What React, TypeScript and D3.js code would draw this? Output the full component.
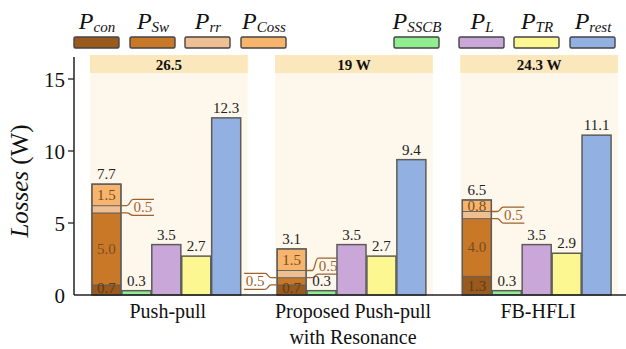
import React from "react";
import * as d3 from "d3";

// ---- data ----
const categoryLines: string[][] = [["Push-pull"], ["Proposed Push-pull", "with Resonance"], ["FB-HFLI"]];
const groupTotals = ["26.5", "19 W", "24.3 W"];

// stacked switch-loss components
const pCon = [0.7, 0.7, 1.3];
const pSw = [5.0, 0.5, 4.0];
const pRr = [0.5, 0.5, 0.5];
const pCoss = [1.5, 1.5, 0.8];
const stackTotals = ["7.7", "3.1", "6.5"];

// single bars
const pSSCB = [0.3, 0.3, 0.3];
const pL = [3.5, 3.5, 3.5];
const pTR = [2.7, 2.7, 2.9];
const pRest = [12.3, 9.4, 11.1];

const yTicks = [0, 5, 10, 15];

// ---- styling ----
const W = 626;
const H = 349;
const FONT = "Liberation Serif, DejaVu Serif, Liberation Sans, DejaVu Sans, sans-serif";

const colors: Record<string, string> = {
  con: "#9b5a1d",
  sw: "#c97828",
  rr: "#eebf93",
  coss: "#f6b46d",
  sscb: "#90ee90",
  l: "#c9a7d8",
  tr: "#fdf792",
  rest: "#92b1e2",
};

const legendItems = [
  { key: "con", sub: "con", x: 74 },
  { key: "sw", sub: "Sw", x: 130 },
  { key: "rr", sub: "rr", x: 185 },
  { key: "coss", sub: "Coss", x: 241 },
  { key: "sscb", sub: "SSCB", x: 394 },
  { key: "l", sub: "L", x: 459 },
  { key: "tr", sub: "TR", x: 514 },
  { key: "rest", sub: "rest", x: 570 },
];

// stack segments that are labelled with a side callout instead of inline
const callouts = [
  { group: 0, key: "rr", side: "right", dy: -2 },
  { group: 1, key: "rr", side: "right", dy: -8 },
  { group: 1, key: "sw", side: "left", dy: 0 },
  { group: 2, key: "rr", side: "right", dy: 0 },
];

const barKeys = ["stack", "sscb", "l", "tr", "rest"];
const singleSeries: Record<string, number[]> = { sscb: pSSCB, l: pL, tr: pTR, rest: pRest };

export default function App() {
  const x0 = d3
    .scaleBand<number>()
    .domain(d3.range(categoryLines.length))
    .range([74, 634])
    .paddingInner(0.148)
    .paddingOuter(0.086);
  const bw = x0.bandwidth();
  const x1 = d3.scaleBand<string>().domain(barKeys).range([2, bw - 7]).paddingInner(0.03);
  const y = d3.scaleLinear().domain([0, 16.5]).range([295, 57.4]);

  const stackKeys = ["con", "sw", "rr", "coss"];
  const stackData = categoryLines.map((_, i) => ({ con: pCon[i], sw: pSw[i], rr: pRr[i], coss: pCoss[i] }));
  const stacked = d3.stack<any>().keys(stackKeys)(stackData);

  const barStroke = "#5c5c5c";
  const labelBrown = "#7a4c22";
  const calloutBrown = "#a0612c";
  const valueSize = 15;

  return (
    <svg
      width={W}
      height={H}
      style={{ position: "absolute", left: 0, top: 0, background: "#fff", fontFamily: FONT }}
    >
      {/* legend */}
      {legendItems.map((it) => (
        <g key={it.key}>
          <text x={it.x + 23} y={29} textAnchor="middle" fontStyle="italic" fill="#111">
            <tspan fontSize={24}>P</tspan>
            <tspan fontSize={15} dy={3}>
              {it.sub}
            </tspan>
          </text>
          <rect
            x={it.x}
            y={37}
            width={45}
            height={11}
            rx={1.5}
            fill={colors[it.key]}
            stroke="#444"
            strokeWidth={1.4}
          />
        </g>
      ))}

      {/* group backgrounds and totals */}
      {categoryLines.map((_, i) => {
        const gx = x0(i)!;
        return (
          <g key={"bg" + i}>
            <rect x={gx} y={55} width={bw} height={y(0) - 55} fill="#fef8ec" />
            <rect x={gx} y={55} width={bw} height={18} fill="#fbe7bc" />
            <text x={gx + bw / 2} y={69.5} textAnchor="middle" fontSize={15} fontWeight="bold" fill="#111">
              {groupTotals[i]}
            </text>
          </g>
        );
      })}

      {/* stacked bars */}
      {stacked.map((layer) =>
        layer.map((seg, i) => {
          const bx = x0(i)! + x1("stack")!;
          const w = x1.bandwidth();
          const top = y(seg[1]);
          const bot = y(seg[0]);
          return (
            <rect
              key={layer.key + i}
              x={bx}
              y={top}
              width={w}
              height={bot - top}
              fill={colors[layer.key]}
              stroke={barStroke}
              strokeWidth={0.8}
            />
          );
        })
      )}
      {/* stack outline, inline labels and totals */}
      {categoryLines.map((_, i) => {
        const bx = x0(i)! + x1("stack")!;
        const w = x1.bandwidth();
        const topVal = stacked[stacked.length - 1][i][1];
        return (
          <g key={"st" + i}>
            <rect
              x={bx}
              y={y(topVal)}
              width={w}
              height={y(0) - y(topVal)}
              fill="none"
              stroke={barStroke}
              strokeWidth={1.5}
            />
            {stacked.map((layer) => {
              if (callouts.some((c) => c.group === i && c.key === layer.key)) return null;
              const seg = layer[i];
              const cy = (y(seg[0]) + y(seg[1])) / 2;
              return (
                <text
                  key={layer.key}
                  x={bx + w / 2}
                  y={Math.min(cy + 5, 293)}
                  textAnchor="middle"
                  fontSize={valueSize}
                  fill={layer.key === "con" ? "#5a3a1c" : labelBrown}
                >
                  {(seg[1] - seg[0]).toFixed(1)}
                </text>
              );
            })}
            <text x={bx + w / 2} y={y(topVal) - 5} textAnchor="middle" fontSize={valueSize} fill="#222">
              {stackTotals[i]}
            </text>
          </g>
        );
      })}

      {/* side callouts for thin segments */}
      {callouts.map((c, k) => {
        const layer = stacked.find((l) => l.key === c.key)!;
        const seg = layer[c.group];
        const bx = x0(c.group)! + x1("stack")!;
        const w = x1.bandwidth();
        const yTop = y(seg[1]);
        const yBot = y(seg[0]);
        const cy = (yTop + yBot) / 2 + c.dy;
        const hh = 8;
        const s = c.side === "right" ? 1 : -1;
        const sx = c.side === "right" ? bx + w : bx;
        const path =
          `M${sx},${yTop} H${sx + s * 6} C${sx + s * 9},${yTop} ${sx + s * 9},${cy - hh} ${sx + s * 12},${cy - hh} H${sx + s * 33}` +
          ` M${sx},${yBot} H${sx + s * 6} C${sx + s * 9},${yBot} ${sx + s * 9},${cy + hh} ${sx + s * 12},${cy + hh} H${sx + s * 33}`;
        return (
          <g key={"co" + k}>
            <path d={path} fill="none" stroke={calloutBrown} strokeWidth={1.3} />
            <text x={sx + s * 22} y={cy + 5} textAnchor="middle" fontSize={valueSize} fill={calloutBrown}>
              {(seg[1] - seg[0]).toFixed(1)}
            </text>
          </g>
        );
      })}

      {/* single bars */}
      {barKeys.slice(1).map((key) =>
        singleSeries[key].map((v, i) => {
          const bx = x0(i)! + x1(key)!;
          const w = x1.bandwidth();
          return (
            <g key={key + i}>
              <rect
                x={bx}
                y={y(v)}
                width={w}
                height={y(0) - y(v)}
                fill={colors[key]}
                stroke={barStroke}
                strokeWidth={1.5}
              />
              <text x={bx + w / 2} y={y(v) - 5} textAnchor="middle" fontSize={valueSize} fill="#222">
                {v.toFixed(1)}
              </text>
            </g>
          );
        })
      )}

      {/* axes */}
      <line x1={74} x2={74} y1={57} y2={y(0)} stroke="#222" strokeWidth={1.5} />
      <line x1={74} x2={626} y1={y(0)} y2={y(0)} stroke="#222" strokeWidth={1.5} />
      {yTicks.map((t) => (
        <g key={"t" + t}>
          {t > 0 && <line x1={68} x2={74} y1={y(t)} y2={y(t)} stroke="#222" strokeWidth={1.3} />}
          <text x={65} y={y(t) + 7.5} textAnchor="end" fontSize={21} fill="#111">
            {t}
          </text>
        </g>
      ))}
      <text
        transform={`translate(28,${181}) rotate(-90)`}
        textAnchor="middle"
        fontSize={25}
        fill="#111"
      >
        <tspan fontStyle="italic">Losses</tspan>
        <tspan> (W)</tspan>
      </text>

      {/* category labels */}
      {categoryLines.map((lines, i) => (
        <text key={"c" + i} x={x0(i)! + bw / 2 - 1} y={318} textAnchor="middle" fontSize={20} fill="#111">
          {lines.map((ln, j) => (
            <tspan key={j} x={x0(i)! + bw / 2 - 1} dy={j === 0 ? 0 : 26}>
              {ln}
            </tspan>
          ))}
        </text>
      ))}
    </svg>
  );
}
